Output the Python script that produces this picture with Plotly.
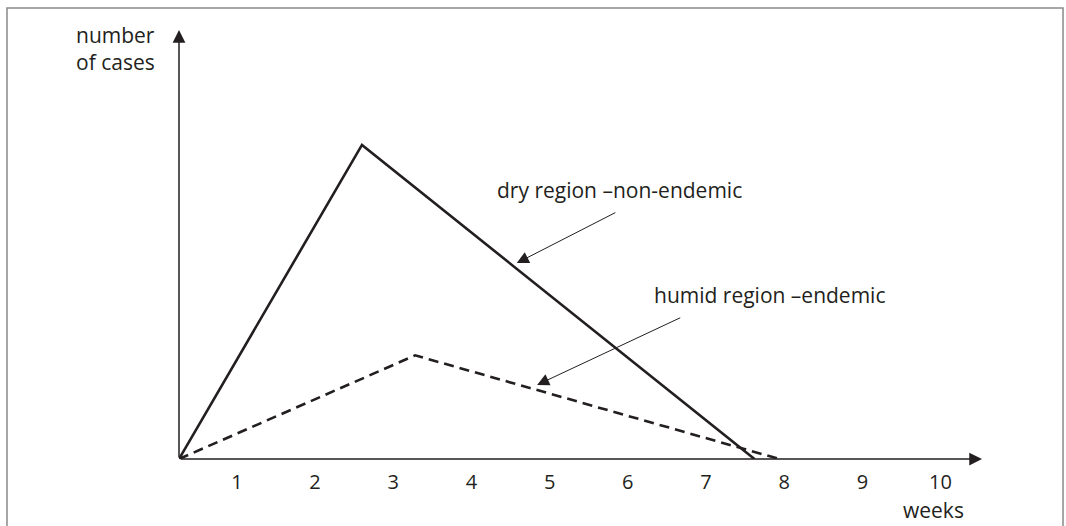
# epidemic curve sketch: dry vs humid region
import plotly.graph_objects as go

week_ticks = [1, 2, 3, 4, 5, 6, 7, 8, 9, 10]
week_labels = ['1', '2', '3', '4', '5', '6', '7', '8', '9', '10']

dry_weeks = [0.26, 2.60, 7.62]
dry_cases = [0, 100, 0]

humid_weeks = [0.26, 3.28, 7.94]
humid_cases = [0, 33, 0]

ink = '#231f20'
font_name = 'Open Sans'

fig = go.Figure()
fig.add_trace(go.Scatter(x=dry_weeks, y=dry_cases, mode='lines',
                         line=dict(color=ink, width=2.6), cliponaxis=False,
                         showlegend=False, hoverinfo='skip'))
fig.add_trace(go.Scatter(x=humid_weeks, y=humid_cases, mode='lines',
                         line=dict(color=ink, width=2.6, dash='10px,6px'), cliponaxis=False,
                         showlegend=False, hoverinfo='skip'))

annots = []
# axes with arrow heads
annots.append(dict(x=0.26, y=136.6, ax=0.26, ay=0, xref='x', yref='y', axref='x', ayref='y',
                   text='', showarrow=True, arrowhead=2, arrowsize=1.7, arrowwidth=1.5,
                   arrowcolor=ink, standoff=0))
annots.append(dict(x=10.53, y=0, ax=0.26, ay=0, xref='x', yref='y', axref='x', ayref='y',
                   text='', showarrow=True, arrowhead=2, arrowsize=1.7, arrowwidth=1.5,
                   arrowcolor=ink, standoff=0))
# pointer arrows
annots.append(dict(x=4.58, y=62.4, ax=5.86, ay=78.7, xref='x', yref='y', axref='x', ayref='y',
                   text='', showarrow=True, arrowhead=2, arrowsize=2.4, arrowwidth=1,
                   arrowcolor=ink, standoff=0))
annots.append(dict(x=4.84, y=23.6, ax=6.69, ay=45.2, xref='x', yref='y', axref='x', ayref='y',
                   text='', showarrow=True, arrowhead=2, arrowsize=2.4, arrowwidth=1,
                   arrowcolor=ink, standoff=0))
# texts
annots.append(dict(x=5.90, y=85.7, xref='x', yref='y', text='dry region –non-endemic',
                   showarrow=False, xanchor='center', yanchor='middle'))
annots.append(dict(x=6.31, y=52.2, xref='x', yref='y', text='humid region –endemic',
                   showarrow=False, xanchor='left', yanchor='middle'))
# these two sit outside the axis range, so place them on paper
annots.append(dict(x=-0.1308, y=0.958, xref='paper', yref='paper', text='number<br>of cases',
                   showarrow=False, xanchor='left', yanchor='middle', align='left'))
annots.append(dict(x=0.9402, y=-0.1189, xref='paper', yref='paper', text='weeks',
                   showarrow=False, xanchor='center', yanchor='middle'))

fig.update_layout(
    width=1066, height=526,
    margin=dict(l=179, r=84, t=30, b=67),
    paper_bgcolor='white', plot_bgcolor='white',
    font=dict(family=font_name, size=21, color=ink),
    annotations=annots,
    xaxis=dict(range=[0.26, 10.53], tickvals=week_ticks, ticktext=week_labels,
               showgrid=False, zeroline=False, showline=False,
               ticks='outside', ticklen=5, tickcolor='rgba(0,0,0,0)',
               tickfont=dict(family=font_name, size=20, color=ink)),
    yaxis=dict(range=[0, 136.6], showgrid=False, zeroline=False, showline=False,
               showticklabels=False, ticks=''),
    shapes=[dict(type='rect', xref='paper', yref='paper',
                 x0=-0.2142, x1=1.1009, y0=-0.1655, y1=1.0513,
                 line=dict(color='#8a8a8a', width=1.5))],
)

# drop the browser's default 8px body margin so the figure sits at 0,0
fig.write_html("out.html", config={'displayModeBar': False},
               post_script="document.body.style.margin='0';document.body.style.overflow='hidden';")
